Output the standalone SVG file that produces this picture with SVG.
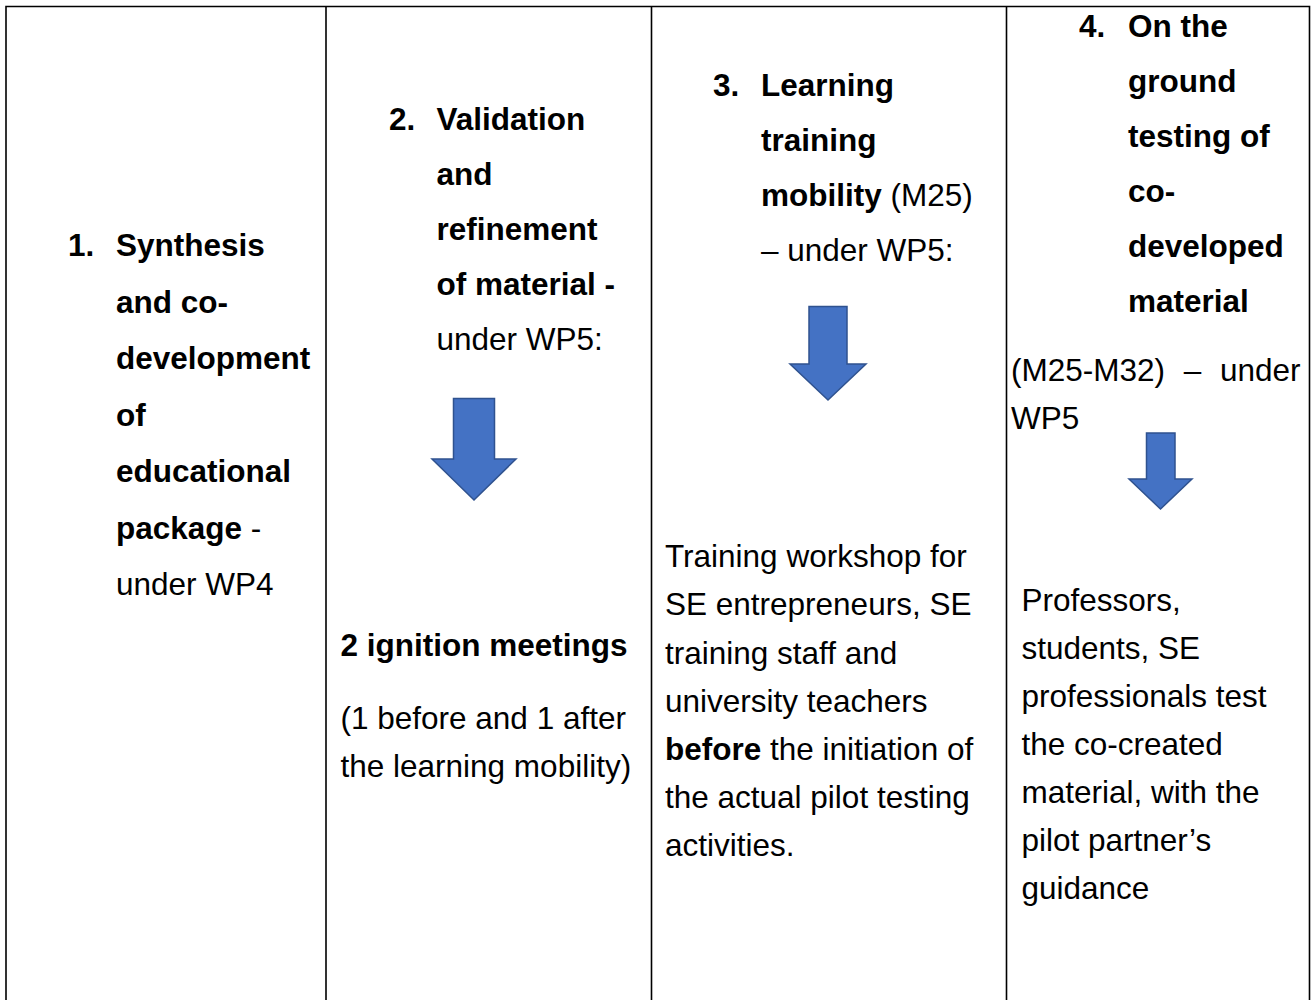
<svg xmlns="http://www.w3.org/2000/svg" width="1313" height="1000" viewBox="0 0 1313 1000">
  <style>
    text { font-family: "Liberation Sans", Arial, sans-serif; font-size: 31.5px; fill: #000; }
    .b { font-weight: bold; }
    .grid { stroke: #000; stroke-width: 1.6; fill: none; }
    .arrow { fill: #4472C4; stroke: #2F528F; stroke-width: 1.5; stroke-linejoin: miter; }
  </style>
  <rect width="1313" height="1000" fill="#fff"/>

  <!-- table frame and column rules -->
  <g id="table">
    <path class="grid" d="M6 1000 V6.5 H1309.5 V1000 M326 6.5 V1000 M651.5 6.5 V1000 M1006.5 6.5 V1000"/>
  </g>

  <!-- column 1 -->
  <g id="step1">
    <text x="68" y="256" class="b">1.</text>
    <text x="116" y="256" class="b">Synthesis</text>
    <text x="116" y="312.5" class="b">and co-</text>
    <text x="116" y="369" class="b">development</text>
    <text x="116" y="425.5" class="b">of</text>
    <text x="116" y="482" class="b">educational</text>
    <text x="116" y="538.5"><tspan class="b">package</tspan> -</text>
    <text x="116" y="595">under WP4</text>
  </g>

  <!-- column 2 -->
  <g id="step2">
    <text x="389" y="129.5" class="b">2.</text>
    <text x="436.5" y="129.5" class="b">Validation</text>
    <text x="436.5" y="184.5" class="b">and</text>
    <text x="436.5" y="239.5" class="b">refinement</text>
    <text x="436.5" y="294.5" class="b">of material -</text>
    <text x="436.5" y="349.5">under WP5:</text>
    <text x="340.5" y="656" class="b">2 ignition meetings</text>
    <text x="340.5" y="729">(1 before and 1 after</text>
    <text x="340.5" y="777">the learning mobility)</text>
  </g>

  <!-- column 3 -->
  <g id="step3">
    <text x="713" y="96" class="b">3.</text>
    <text x="761" y="96" class="b">Learning</text>
    <text x="761" y="151" class="b">training</text>
    <text x="761" y="206"><tspan class="b">mobility</tspan> (M25)</text>
    <text x="761" y="261">– under WP5:</text>
    <text x="665" y="567">Training workshop for</text>
    <text x="665" y="615">SE entrepreneurs, SE</text>
    <text x="665" y="663.5">training staff and</text>
    <text x="665" y="711.5">university teachers</text>
    <text x="665" y="760"><tspan class="b">before</tspan> the initiation of</text>
    <text x="665" y="808">the actual pilot testing</text>
    <text x="665" y="856">activities.</text>
  </g>

  <!-- column 4 -->
  <g id="step4">
    <text x="1079" y="37" class="b">4.</text>
    <text x="1128" y="37" class="b">On the</text>
    <text x="1128" y="92" class="b">ground</text>
    <text x="1128" y="147" class="b">testing of</text>
    <text x="1128" y="202" class="b">co-</text>
    <text x="1128" y="257" class="b">developed</text>
    <text x="1128" y="312" class="b">material</text>
    <text x="1011" y="381" word-spacing="10">(M25-M32) – under</text>
    <text x="1011" y="429">WP5</text>
    <text x="1021.5" y="611">Professors,</text>
    <text x="1021.5" y="659">students, SE</text>
    <text x="1021.5" y="707">professionals test</text>
    <text x="1021.5" y="755">the co-created</text>
    <text x="1021.5" y="803">material, with the</text>
    <text x="1021.5" y="851">pilot partner’s</text>
    <text x="1021.5" y="899">guidance</text>
  </g>

  <!-- down arrows linking each heading to its activity -->
  <g id="connectors">
    <path class="arrow" d="M453.5 398.5 H494.5 V459 H516 L474 500 L432 459 H453.5 Z"/>
    <path class="arrow" d="M809 306.5 H847 V364 H866 L828 400 L790 364 H809 Z"/>
    <path class="arrow" d="M1146.5 433 H1175 V479 H1192 L1160.5 509 L1129 479 H1146.5 Z"/>
  </g>
</svg>
